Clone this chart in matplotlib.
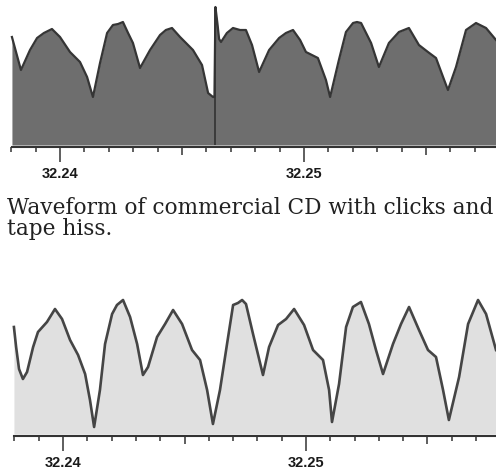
import numpy as np
import matplotlib
matplotlib.use("Agg")
import matplotlib.pyplot as plt

# time in ms after 32.24 s, amplitude in arbitrary units above the baseline
# upper trace: commercial CD with clicks and tape hiss
hiss_ms = [-1.97, -1.60, -1.23, -0.94, -0.66, -0.33, 0.00, 0.41, 0.82, 1.11,
           1.35, 1.64, 1.93, 2.17, 2.38, 2.58, 2.79, 2.99, 3.28, 3.69,
           4.10, 4.34, 4.59, 4.92, 5.45, 5.82, 6.07, 6.27, 6.33, 6.37,
           6.45, 6.52, 6.60, 6.84, 7.09, 7.38, 7.62, 7.87, 8.16, 8.57,
           8.98, 9.26, 9.55, 9.84, 10.08, 10.57, 10.90, 11.07, 11.43, 11.72,
           12.01, 12.17, 12.34, 12.75, 13.07, 13.48, 13.89, 14.30, 14.71, 15.08,
           15.41, 15.70, 15.90, 16.23, 16.64, 17.05, 17.46, 17.87]
hiss_amp = [108, 75, 95, 107, 112, 116, 108, 93, 83, 68,
            48, 82, 112, 120, 121, 123, 112, 102, 77, 95,
            110, 115, 117, 108, 95, 80, 52, 48, 48, 138,
            122, 106, 103, 112, 117, 115, 115, 100, 73, 95,
            107, 112, 115, 105, 93, 87, 65, 48, 85, 113,
            122, 123, 122, 102, 78, 102, 113, 117, 100, 93,
            87, 68, 55, 78, 115, 122, 117, 105]
click_ms = 6.36
click_amp = 138

# lower trace: same passage after restoration
clean_ms = [-2.02, -1.93, -1.81, -1.65, -1.48, -1.23, -1.03, -0.66, -0.33, -0.04,
            0.29, 0.62, 0.91, 1.11, 1.28, 1.52, 1.73, 2.02, 2.22, 2.47,
            2.76, 3.05, 3.29, 3.50, 3.87, 4.20, 4.53, 4.90, 5.31, 5.64,
            5.93, 6.17, 6.46, 6.75, 7.00, 7.20, 7.37, 7.53, 7.82, 8.02,
            8.23, 8.48, 8.85, 9.18, 9.51, 9.92, 10.29, 10.70, 10.95, 11.07,
            11.36, 11.65, 11.93, 12.26, 12.59, 12.88, 13.17, 13.58, 13.91, 14.24,
            14.65, 15.02, 15.35, 15.64, 15.88, 16.30, 16.67, 17.08, 17.41, 17.82]
clean_amp = [107, 87, 65, 55, 62, 87, 102, 112, 125, 115,
             94, 79, 60, 34, 7, 44, 90, 120, 129, 134,
             117, 90, 59, 67, 97, 110, 124, 110, 84, 74,
             44, 10, 44, 90, 129, 131, 134, 130, 100, 80,
             59, 87, 109, 115, 125, 109, 84, 74, 44, 12,
             50, 107, 127, 132, 110, 84, 60, 90, 110, 127,
             104, 84, 77, 44, 14, 57, 110, 134, 120, 84]

tick_secs = np.round(np.arange(32.238, 32.2575, 0.001), 3)
label_secs = [32.24, 32.25]
mid_secs = [32.245, 32.255]
caption_lines = ["Waveform of commercial CD with clicks and", "tape hiss."]

W, H = 496, 477
fig = plt.figure(figsize=(W / 100, H / 100), dpi=100)


def wave_axes(top_px, base_px, ms, amp, xlim_ms, face, edge, lw):
    ax = fig.add_axes([0, (H - base_px) / H, 1, (base_px - top_px) / H])
    t = 32.24 + np.asarray(ms) / 1000
    ax.fill_between(t, 0, amp, color=face, lw=0)
    ax.plot(t, amp, color=edge, lw=lw, solid_joinstyle="round")
    ax.set_xlim(32.24 + xlim_ms[0] / 1000, 32.24 + xlim_ms[1] / 1000)
    ax.set_ylim(-2, base_px - top_px - 2)
    for s in ["top", "left", "right"]:
        ax.spines[s].set_visible(False)
    ax.spines["bottom"].set_bounds(t[0], ax.get_xlim()[1])
    ax.spines["bottom"].set_linewidth(1.5)
    ax.spines["bottom"].set_color("#333333")
    ax.set_yticks([])
    labels = [f"{s:.2f}" if s in label_secs else "" for s in tick_secs]
    ax.set_xticks(tick_secs, labels)
    ax.tick_params(axis="x", direction="out", length=10.5, width=1.1,
                   color="#333333", pad=3)
    for tk, s in zip(ax.xaxis.get_major_ticks(), tick_secs):
        if s in label_secs:
            continue
        tk.tick1line.set_markersize(5.5 if s in mid_secs else 3.5)
    for lab in ax.get_xticklabels():
        lab.set_fontfamily("Liberation Sans")
        lab.set_fontweight("bold")
        lab.set_fontsize(10.5)
        lab.set_color("#1a1a1a")
    ax.patch.set_visible(False)
    return ax


ax1 = wave_axes(0, 148, hiss_ms, hiss_amp, (-2.459, 17.869),
                "#6e6e6e", "#353535", 1.6)
ax1.vlines(32.24 + click_ms / 1000, 0, click_amp, color="#333333", lw=1.2)

ax2 = wave_axes(290, 437, clean_ms, clean_amp, (-2.593, 17.819),
                "#e0e0e0", "#454545", 1.9)

for i, line in enumerate(caption_lines):
    fig.text(7 / W, 1 - (214 + 21 * i) / H, line, fontfamily="DejaVu Serif",
             fontsize=15.6, color="#222222", va="baseline")

fig.savefig("out.png", dpi=100)
